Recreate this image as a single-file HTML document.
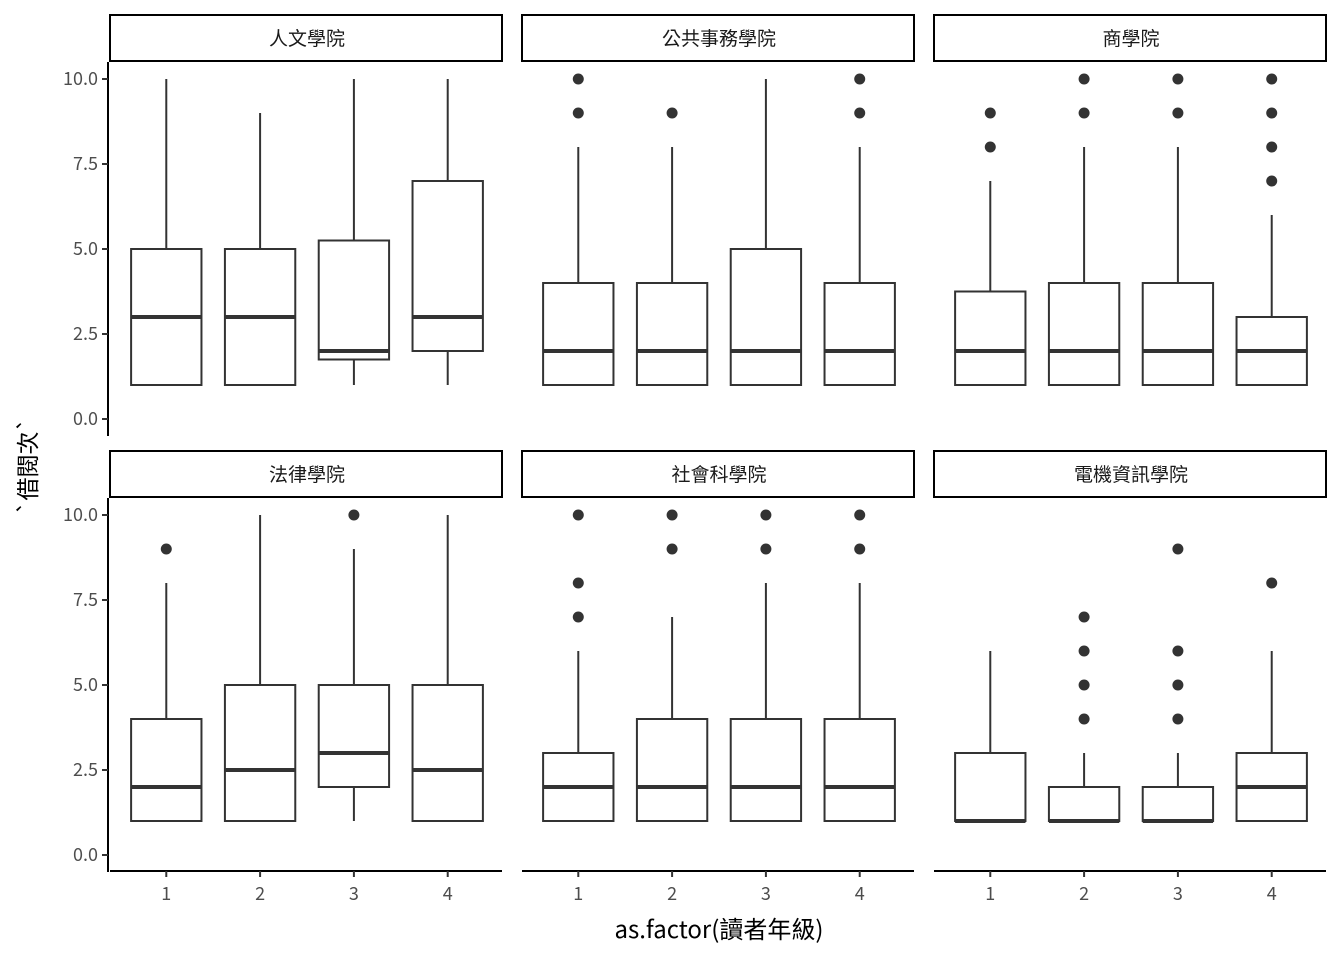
<!DOCTYPE html>
<html><head><meta charset="utf-8"><style>
body{margin:0;background:#fff}
svg{display:block;font-family:"Noto Sans CJK TC","Liberation Sans",sans-serif}
</style></head><body>
<svg id="c" width="1344" height="960"></svg>
<script>
const colleges=["人文學院","公共事務學院","商學院","法律學院","社會科學院","電機資訊學院"];
const grades=["1","2","3","4"];
const yTicks=[0,2.5,5,7.5,10];
const yTickLabels=["0.0","2.5","5.0","7.5","10.0"];
// [lower whisker, q1, median, q3, upper whisker] per college per grade
const stats=[
 [[1,1,3,5,10],[1,1,3,5,9],[1,1.75,2,5.25,10],[1,2,3,7,10]],
 [[1,1,2,4,8],[1,1,2,4,8],[1,1,2,5,10],[1,1,2,4,8]],
 [[1,1,2,3.75,7],[1,1,2,4,8],[1,1,2,4,8],[1,1,2,3,6]],
 [[1,1,2,4,8],[1,1,2.5,5,10],[1,2,3,5,9],[1,1,2.5,5,10]],
 [[1,1,2,3,6],[1,1,2,4,7],[1,1,2,4,8],[1,1,2,4,8]],
 [[1,1,1,3,6],[1,1,1,2,3],[1,1,1,2,3],[1,1,2,3,6]]
];
const outliers=[
 [[],[],[],[]],
 [[9,10],[9],[],[9,10]],
 [[8,9],[9,10],[9,10],[7,8,9,10]],
 [[9],[],[10],[]],
 [[7,8,10],[9,10],[9,10],[9,10]],
 [[],[4,5,6,7],[4,5,6,9],[8]]
];
const svg=document.getElementById('c');const NS="http://www.w3.org/2000/svg";
function el(t,a,p){const e=document.createElementNS(NS,t);for(const k in a)e.setAttribute(k,a[k]);(p||svg).appendChild(e);return e;}
const colX=[110,522,934],W=394;
const rowTop=[62,498],H=374;
function yS(r,v){return rowTop[r]+H*(10.5-v)/11;}
function xS(c,i){return colX[c]+W*(i+1-0.4)/4.2;}
const bw=W*0.75/4.2;
colleges.forEach((name,k)=>{
 const r=Math.floor(k/3),c=k%3;
 const g=el('g',{});
 
 
 const st=el('rect',{x:colX[c],y:rowTop[r]-47,width:W-2,height:46,fill:'#fff',stroke:'#000','stroke-width':2},g);
 
 
 const tt=el('text',{x:colX[c]+W/2,y:rowTop[r]-17,'text-anchor':'middle','font-size':19,fill:'#1a1a1a'},g);
 tt.textContent=name;
 
 
 grades.forEach((gr,i)=>{
  const s=stats[k][i],x=xS(c,i);
  const b=el('g',{},g);
  
  
  el('line',{x1:x,x2:x,y1:yS(r,s[0]),y2:yS(r,s[1]),stroke:'#333','stroke-width':2},b);
  el('line',{x1:x,x2:x,y1:yS(r,s[3]),y2:yS(r,s[4]),stroke:'#333','stroke-width':2},b);
  el('rect',{x:x-bw/2,y:yS(r,s[3]),width:bw,height:yS(r,s[1])-yS(r,s[3]),fill:'#fff',stroke:'#333','stroke-width':2},b);
  el('line',{x1:x-bw/2,x2:x+bw/2,y1:yS(r,s[2]),y2:yS(r,s[2]),stroke:'#333','stroke-width':4},b);
  outliers[k][i].forEach(v=>{
   const o=el('circle',{cx:x,cy:yS(r,v),r:5.5,fill:'#333'},b);
   
   
  });
 });
 if(c===0){
  el('line',{x1:108,x2:108,y1:rowTop[r],y2:rowTop[r]+H,stroke:'#000','stroke-width':2});
  yTicks.forEach((v,j)=>{
   el('line',{x1:102,x2:108,y1:yS(r,v),y2:yS(r,v),stroke:'#333','stroke-width':2});
   const t=el('text',{x:98,y:yS(r,v)+6,'text-anchor':'end','font-size':18,fill:'#4d4d4d'});
   t.textContent=yTickLabels[j];
   
   
  });
 }
 if(r===1){
  el('line',{x1:colX[c],x2:colX[c]+W-2,y1:871,y2:871,stroke:'#000','stroke-width':2});
  grades.forEach((gr,i)=>{
   const x=xS(c,i);
   el('line',{x1:x,x2:x,y1:871,y2:877,stroke:'#333','stroke-width':2});
   const t=el('text',{x:x,y:900,'text-anchor':'middle','font-size':18,fill:'#4d4d4d'});
   t.textContent=gr;
   
   
  });
 }
});
const xt=el('text',{x:719,y:938,'text-anchor':'middle','font-size':24,fill:'#000'});
xt.textContent='as.factor(讀者年級)';


const yt=el('text',{x:0,y:0,'text-anchor':'middle','font-size':23,fill:'#000',transform:'translate(36,466) rotate(-90)'});
yt.textContent='`借閱次`';


</script>
</body></html>
